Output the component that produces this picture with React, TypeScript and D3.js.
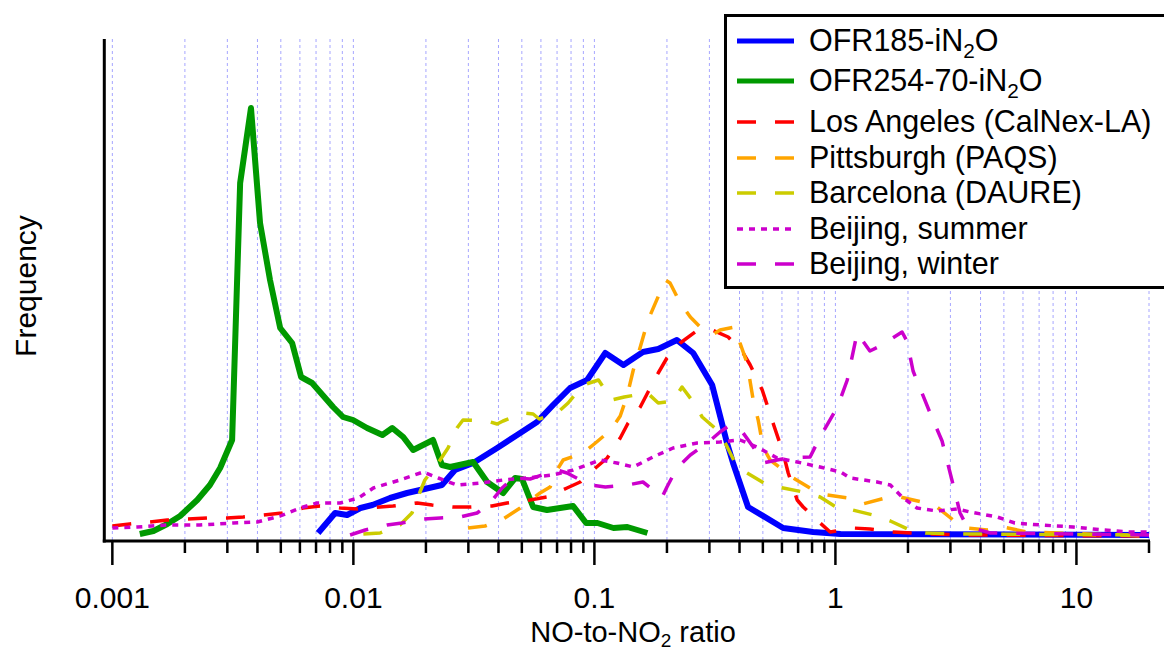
import React from "react";
import * as d3 from "d3";

// NO-to-NO2 ratio (x) and frequency in arbitrary units (y)
const ofr185X = [0.00714, 0.0084, 0.00942, 0.0107, 0.012, 0.0142, 0.0167, 0.0233, 0.0264, 0.0314, 0.0395, 0.0478, 0.0578, 0.0674, 0.0793, 0.0933, 0.111, 0.132, 0.159, 0.184, 0.22, 0.257, 0.308, 0.355, 0.376, 0.434, 0.607, 0.808, 1.05, 20];
const ofr185Y = [8, 28, 26, 33, 36, 43, 48, 56, 71, 78, 93, 106, 119, 136, 153, 161, 188, 176, 189, 192, 201, 188, 156, 98, 78, 34, 13, 9, 7, 6];

const ofr254X = [0.0013, 0.00148, 0.00169, 0.00191, 0.00225, 0.00254, 0.0028, 0.00314, 0.00339, 0.00376, 0.0041, 0.00451, 0.00497, 0.00557, 0.00607, 0.00674, 0.00824, 0.00906, 0.00997, 0.0114, 0.0132, 0.0145, 0.0161, 0.0177, 0.0214, 0.0233, 0.0252, 0.0314, 0.0359, 0.0418, 0.0469, 0.0501, 0.0557, 0.0636, 0.0816, 0.0924, 0.103, 0.12, 0.137, 0.166];
const ofr254Y = [7, 10, 17, 25, 41, 56, 73, 101, 358, 433, 318, 261, 213, 198, 164, 158, 134, 124, 121, 113, 106, 113, 104, 91, 101, 76, 74, 79, 59, 48, 63, 62, 34, 31, 35, 18, 18, 13, 14, 8];

const laX = [0.001, 0.00118, 0.00143, 0.00169, 0.00247, 0.00299, 0.00349, 0.00422, 0.00506, 0.00618, 0.00727, 0.00881, 0.0104, 0.0129, 0.0146, 0.0184, 0.0212, 0.0259, 0.0305, 0.0376, 0.0434, 0.0541, 0.0636, 0.077, 0.0873, 0.101, 0.113, 0.128, 0.138, 0.155, 0.167, 0.184, 0.2, 0.227, 0.262, 0.308, 0.359, 0.414, 0.443, 0.497, 0.551, 0.607, 0.637, 0.694, 0.735, 0.864, 0.951, 1.18, 1.39, 1.72, 2.47, 3.52, 20];
const laY = [15, 17, 19, 21, 23, 23, 24, 26, 28, 33, 35, 33, 32, 34, 35, 38, 36, 34, 34, 35, 38, 41, 44, 53, 59, 73, 83, 103, 118, 134, 149, 168, 183, 198, 209, 211, 204, 188, 176, 151, 118, 88, 68, 41, 34, 18, 9, 13, 12, 9, 7, 6, 5];

const pittX = [0.0299, 0.0352, 0.0418, 0.0492, 0.0557, 0.0595, 0.0655, 0.07, 0.0742, 0.0898, 0.101, 0.117, 0.128, 0.137, 0.145, 0.155, 0.167, 0.197, 0.206, 0.227, 0.25, 0.288, 0.308, 0.332, 0.384, 0.402, 0.43, 0.456, 0.478, 0.501, 0.536, 0.607, 0.668, 0.808, 0.924, 1.13, 1.3, 1.61, 1.86, 2.29, 2.64, 3.08, 3.52, 4.26, 4.97, 6.24, 20];
const pittY = [13, 15, 22, 33, 43, 48, 54, 71, 81, 88, 98, 111, 125, 146, 171, 194, 221, 261, 258, 238, 224, 209, 206, 211, 214, 198, 178, 141, 121, 94, 81, 71, 63, 51, 46, 43, 37, 43, 44, 39, 34, 21, 13, 11, 14, 9, 5];

const barcX = [0.011, 0.0129, 0.0156, 0.0175, 0.0189, 0.0198, 0.0229, 0.0247, 0.0269, 0.0285, 0.0359, 0.0395, 0.0418, 0.0511, 0.0557, 0.059, 0.07, 0.0778, 0.0898, 0.104, 0.118, 0.133, 0.166, 0.184, 0.212, 0.231, 0.257, 0.28, 0.323, 0.349, 0.384, 0.43, 0.521, 0.607, 0.735, 0.864, 1.02, 1.18, 1.43, 1.69, 2.04, 2.36, 3.39, 20];
const barcY = [7, 8, 16, 28, 49, 61, 81, 93, 113, 121, 120, 117, 120, 128, 127, 122, 128, 138, 156, 161, 141, 144, 148, 138, 140, 154, 139, 124, 111, 98, 78, 68, 56, 53, 49, 44, 33, 31, 26, 20, 11, 8, 7, 6];

const bjSummerX = [0.001, 0.00127, 0.00169, 0.00231, 0.00317, 0.00399, 0.00497, 0.00601, 0.00707, 0.00881, 0.0105, 0.0121, 0.0156, 0.0195, 0.0225, 0.0269, 0.0336, 0.0418, 0.0526, 0.0674, 0.0816, 0.106, 0.124, 0.145, 0.175, 0.212, 0.267, 0.332, 0.402, 0.473, 0.573, 0.694, 0.864, 1.05, 1.15, 1.49, 1.69, 1.89, 2.18, 2.64, 3.2, 3.62, 4.69, 5.55, 7.11, 9.69, 12.9, 16.7, 20];
const bjSummerY = [13, 14, 16, 16, 18, 19, 25, 33, 38, 38, 43, 53, 61, 69, 63, 56, 58, 61, 63, 66, 71, 81, 78, 74, 84, 93, 98, 99, 101, 94, 83, 79, 74, 69, 63, 59, 56, 44, 33, 30, 32, 29, 24, 18, 16, 14, 11, 9, 9];

const bjWinterX = [0.00969, 0.0112, 0.0138, 0.0159, 0.0195, 0.0229, 0.0277, 0.0326, 0.0369, 0.0414, 0.046, 0.0541, 0.07, 0.077, 0.096, 0.111, 0.137, 0.159, 0.191, 0.2, 0.22, 0.25, 0.294, 0.332, 0.366, 0.414, 0.456, 0.501, 0.573, 0.63, 0.785, 0.864, 1.02, 1.12, 1.23, 1.39, 1.56, 1.89, 1.98, 2.1, 2.47, 2.77, 3.05, 3.29, 3.42, 3.62, 4.39, 20];
const bjWinterY = [6, 11, 16, 18, 22, 23, 24, 28, 38, 53, 63, 62, 71, 68, 56, 54, 56, 59, 44, 54, 73, 86, 98, 109, 116, 108, 94, 78, 81, 83, 84, 104, 134, 161, 208, 190, 196, 209, 200, 170, 128, 100, 60, 28, 20, 14, 8, 6];

const seriesNames = ["OFR185-iN2O", "OFR254-70-iN2O", "Los Angeles (CalNex-LA)", "Pittsburgh (PAQS)", "Barcelona (DAURE)", "Beijing, summer", "Beijing, winter"];
const seriesX = [ofr185X, ofr254X, laX, pittX, barcX, bjSummerX, bjWinterX];
const seriesY = [ofr185Y, ofr254Y, laY, pittY, barcY, bjSummerY, bjWinterY];

const majorTicks = [0.001, 0.01, 0.1, 1, 10];
const tickLabels = ["0.001", "0.01", "0.1", "1", "10"];

// trace styles (Igor-like)
const styles = [
  { color: "#0000ff", width: 6, dash: null },
  { color: "#009900", width: 6, dash: null },
  { color: "#ff0000", width: 3.5, dash: "19,19" },
  { color: "#ffa500", width: 3.5, dash: "19,19" },
  { color: "#cccc00", width: 3.5, dash: "19,19" },
  { color: "#cc00cc", width: 3.5, dash: "6,6" },
  { color: "#cc00cc", width: 3.5, dash: "19,19" },
];

const W = 1164;
const H = 653;
const left = 104.3;
const right = 1149;
const top = 39;
const bottom = 541;
const font = "'Liberation Sans', Arial, Helvetica, sans-serif";

const x = d3.scaleLog().domain([0.000926, 20]).range([left, right]);
const y = d3.scaleLinear().domain([0, 502]).range([bottom, top]);

const line = d3
  .line<[number, number]>()
  .x((d) => x(d[0]))
  .y((d) => y(d[1]));

const legendLineY = [41, 81, 122, 158, 193, 229, 264];

// label with "2" as subscript for the N2O names
const Label = ({ text, size }: { text: string; size: number }) => {
  const i = text.indexOf("N2O");
  if (i < 0) return <>{text}</>;
  return (
    <>
      {text.slice(0, i + 1)}
      <tspan fontSize={size * 0.68} dy={size * 0.24}>2</tspan>
      <tspan dy={-size * 0.24}>{text.slice(i + 2)}</tspan>
    </>
  );
};

export default function App() {
  const ticks = x.ticks();
  const isMajor = (v: number) => Math.abs(Math.log10(v) - Math.round(Math.log10(v))) < 1e-6;

  return (
    <svg
      width={W}
      height={H}
      style={{ position: "absolute", left: 0, top: 0, display: "block", background: "#fff" }}
      fontFamily={font}
    >
      {/* dotted grid at every tick */}
      {ticks.map((t, i) => (
        <line
          key={"g" + i}
          x1={x(t)}
          x2={x(t)}
          y1={top}
          y2={bottom}
          stroke="#a6a6ff"
          strokeWidth={1}
          strokeDasharray="3,3"
        />
      ))}

      {/* traces */}
      {seriesX.map((xs, s) => (
        <path
          key={"s" + s}
          d={line(xs.map((v, j) => [v, seriesY[s][j]] as [number, number])) || ""}
          fill="none"
          stroke={styles[s].color}
          strokeWidth={styles[s].width}
          strokeDasharray={styles[s].dash || undefined}
          strokeLinejoin="round"
        />
      ))}

      {/* axes */}
      <line x1={left} x2={left} y1={top} y2={bottom + 1.5} stroke="#000" strokeWidth={3} />
      <line x1={left - 1.5} x2={right + 1} y1={bottom} y2={bottom} stroke="#000" strokeWidth={3} />
      {ticks.map((t, i) => (
        <line
          key={"t" + i}
          x1={x(t)}
          x2={x(t)}
          y1={bottom}
          y2={bottom + (isMajor(t) ? 24 : 12)}
          stroke="#000"
          strokeWidth={2.5}
        />
      ))}
      {majorTicks.map((t, i) => (
        <text key={"l" + i} x={x(t)} y={608} textAnchor="middle" fontSize={30} fill="#000">
          {tickLabels[i]}
        </text>
      ))}

      <text x={633} y={642} textAnchor="middle" fontSize={29} fill="#000">
        NO-to-NO<tspan fontSize={19} dy={5}>2</tspan>
        <tspan dy={-5}> ratio</tspan>
      </text>
      <text
        transform={`translate(36,286) rotate(-90)`}
        textAnchor="middle"
        fontSize={30}
        fill="#000"
      >
        Frequency
      </text>

      {/* legend */}
      <rect x={725.5} y={15.5} width={450} height={272} fill="#fff" stroke="#000" strokeWidth={3} />
      {seriesNames.map((name, i) => (
        <g key={"lg" + i}>
          <line
            x1={737}
            x2={794}
            y1={legendLineY[i]}
            y2={legendLineY[i]}
            stroke={styles[i].color}
            strokeWidth={i < 2 ? 5 : 3.5}
            strokeDasharray={styles[i].dash || undefined}
          />
          <text x={809} y={legendLineY[i] + 10} fontSize={30.5} fill="#000">
            <Label text={name} size={30.5} />
          </text>
        </g>
      ))}
    </svg>
  );
}
